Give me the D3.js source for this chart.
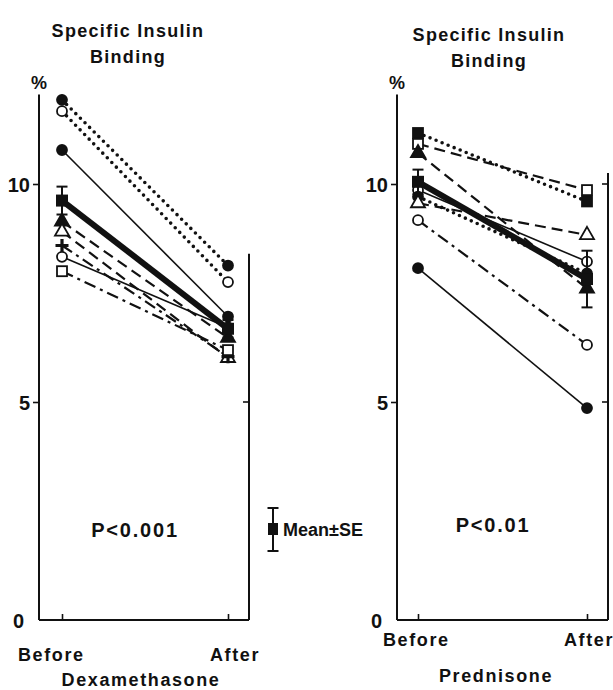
<!DOCTYPE html>
<html><head><meta charset="utf-8">
<script src="https://cdn.jsdelivr.net/npm/d3@7"></script>
<style>
body{margin:0;background:#fff}
text{font-family:"Liberation Sans",Arial,Helvetica,sans-serif;font-weight:bold;fill:#111}
</style>
</head><body>
<svg id="chart" width="613" height="690"></svg>
<script>
// ---------- data ----------
const phases = ["Before", "After"];
const yTickValues = [0, 5, 10];

// Dexamethasone panel
const dexSubjects = ["d1", "d2", "d3", "d4", "d5", "d6", "d7", "d8"];
const dexBefore   = [11.93, 11.67, 10.78, 9.14, 8.91, 8.59, 8.33, 8.00];
const dexAfter    = [8.13, 7.75, 6.96, 6.47, 6.01, 6.04, 6.71, 6.19];
const dexMean     = [9.62, 6.68];
const dexSE       = [0.32, 0.20];

// Prednisone panel
const preSubjects = ["p1", "p2", "p3", "p4", "p5", "p6", "p7", "p8"];
const preBefore   = [11.17, 10.92, 10.71, 9.86, 9.71, 9.56, 9.17, 8.07];
const preAfter    = [9.60, 9.86, 7.60, 8.22, 7.95, 8.83, 6.31, 4.86];
const preMean     = [10.05, 7.82];
const preSE       = [0.28, 0.65];

// ---------- styles (not data) ----------
const dexStyle = {
  d1:{line:"dot", marker:"circle", fill:true},
  d2:{line:"dot", marker:"circle", fill:false},
  d3:{line:"solid", marker:"circle", fill:true},
  d4:{line:"dash", marker:"triangle", fill:true},
  d5:{line:"dash", marker:"triangle", fill:false},
  d6:{line:"dashdot", marker:"plus", fill:true},
  d7:{line:"solid", marker:"circle", fill:false},
  d8:{line:"dashdot", marker:"square", fill:false}
};
const preStyle = {
  p1:{line:"dot", marker:"square", fill:true},
  p2:{line:"dash", marker:"square", fill:false},
  p3:{line:"dash", marker:"triangle", fill:true},
  p4:{line:"solid", marker:"circle", fill:false},
  p5:{line:"dot", marker:"circle", fill:true},
  p6:{line:"dash", marker:"triangle", fill:false},
  p7:{line:"dashdot", marker:"circle", fill:false},
  p8:{line:"solid", marker:"circle", fill:true}
};
const lineStyles = {
  solid:{w:1.6, dash:null, cap:"butt"},
  dot:{w:3.6, dash:"0,6.5", cap:"round"},
  dash:{w:2.2, dash:"11,6", cap:"butt"},
  dashdot:{w:2.2, dash:"12,5,3,5", cap:"butt"}
};

const svg = d3.select("#chart");
const ink = "#111";

function drawMarker(g, type, filled, cx, cy) {
  const fill = filled ? ink : "#fff";
  if (type === "circle") {
    g.append("circle").attr("cx", cx).attr("cy", cy).attr("r", 5)
      .attr("fill", fill).attr("stroke", ink).attr("stroke-width", 1.8);
  } else if (type === "square") {
    g.append("rect").attr("x", cx - 5).attr("y", cy - 5).attr("width", 10).attr("height", 10)
      .attr("fill", fill).attr("stroke", ink).attr("stroke-width", 1.8);
  } else if (type === "triangle") {
    g.append("path").attr("d", d3.symbol(d3.symbolTriangle, 85)())
      .attr("transform", `translate(${cx},${cy})`)
      .attr("fill", fill).attr("stroke", ink).attr("stroke-width", 1.8);
  } else if (type === "plus") {
    g.append("path").attr("d", `M${cx-6.5},${cy}H${cx+6.5}M${cx},${cy-6.5}V${cy+6.5}`)
      .attr("stroke", ink).attr("stroke-width", 3.2);
  }
}

function panel(cfg) {
  const g = svg.append("g");
  const y = d3.scaleLinear().domain([0, 12]).range([620, 620 - 12 * 43.6]);
  const x = d3.scalePoint().domain(phases).range([cfg.bx, cfg.ax]);

  // left axis
  const yAxis = d3.axisLeft(y).tickValues(yTickValues).tickSize(6).tickPadding(3)
    .tickFormat(d3.format("d"));
  const ya = g.append("g").attr("transform", `translate(${cfg.left},0)`).call(yAxis);
  ya.select(".domain").remove();
  ya.selectAll(".tick line").attr("stroke", ink).attr("stroke-width", 1.6)
    .attr("display", d => d === 0 ? "none" : null);
  ya.selectAll(".tick text").attr("font-size", 20).attr("fill", ink)
    .attr("font-family", "Liberation Sans, Arial, sans-serif").attr("font-weight", "bold")
    .attr("dx", d => d === 0 ? -6 : 0).attr("dy", "0.36em");
  g.append("line").attr("x1", cfg.left).attr("x2", cfg.left)
    .attr("y1", y(12.05)).attr("y2", y(0)).attr("stroke", ink).attr("stroke-width", 2);

  // bottom axis
  const xAxis = d3.axisBottom(x).tickSize(-6).tickFormat("");
  const xa = g.append("g").attr("transform", `translate(0,${y(0)})`).call(xAxis);
  xa.select(".domain").remove();
  xa.selectAll(".tick line").attr("stroke", ink).attr("stroke-width", 1.6);
  g.append("line").attr("x1", cfg.left).attr("x2", cfg.right)
    .attr("y1", y(0)).attr("y2", y(0)).attr("stroke", ink).attr("stroke-width", 2);

  // right frame line
  g.append("line").attr("x1", cfg.right).attr("x2", cfg.right)
    .attr("y1", y(cfg.rightTop)).attr("y2", y(0)).attr("stroke", ink).attr("stroke-width", 2);
  cfg.rightTicks.forEach(v => g.append("line").attr("x1", cfg.right - 6).attr("x2", cfg.right)
    .attr("y1", y(v)).attr("y2", y(v)).attr("stroke", ink).attr("stroke-width", 1.6));

  // "%" unit
  g.append("text").attr("x", cfg.left).attr("y", 89).attr("text-anchor", "middle")
    .attr("font-size", 18).text("%");

  // subject lines
  cfg.subjects.forEach((s, i) => {
    const st = cfg.style[s], ls = lineStyles[st.line];
    g.append("line")
      .attr("x1", x("Before")).attr("y1", y(cfg.before[i]))
      .attr("x2", x("After")).attr("y2", y(cfg.after[i]))
      .attr("stroke", ink).attr("stroke-width", ls.w)
      .attr("stroke-dasharray", ls.dash).attr("stroke-linecap", ls.cap);
  });
  // mean line
  g.append("line")
    .attr("x1", x("Before")).attr("y1", y(cfg.mean[0]))
    .attr("x2", x("After")).attr("y2", y(cfg.mean[1]))
    .attr("stroke", ink).attr("stroke-width", 6);
  // markers
  cfg.subjects.forEach((s, i) => {
    const st = cfg.style[s];
    drawMarker(g, st.marker, st.fill, x("Before"), y(cfg.before[i]));
    drawMarker(g, st.marker, st.fill, x("After"), y(cfg.after[i]));
  });
  // mean +- SE
  phases.forEach((p, i) => {
    const cx = x(p), m = cfg.mean[i], se = cfg.SE[i];
    g.append("line").attr("x1", cx).attr("x2", cx).attr("y1", y(m + se)).attr("y2", y(m - se))
      .attr("stroke", ink).attr("stroke-width", 2);
    [m + se, m - se].forEach(v => g.append("line").attr("x1", cx - 5.5).attr("x2", cx + 5.5)
      .attr("y1", y(v)).attr("y2", y(v)).attr("stroke", ink).attr("stroke-width", 2));
    g.append("rect").attr("x", cx - 6).attr("y", y(m) - 6).attr("width", 12).attr("height", 12)
      .attr("fill", ink);
  });

  // titles & labels
  g.append("text").attr("x", cfg.titleX).attr("y", cfg.titleY).attr("text-anchor", "middle")
    .attr("font-size", 18).attr("letter-spacing", 1.3).text("Specific Insulin");
  g.append("text").attr("x", cfg.titleX).attr("y", cfg.titleY + 26).attr("text-anchor", "middle")
    .attr("font-size", 18).attr("letter-spacing", 1.3).text("Binding");
  g.append("text").attr("x", cfg.beforeLabelX).attr("y", cfg.phaseY).attr("font-size", 18)
    .attr("letter-spacing", 1.6).text(phases[0]);
  g.append("text").attr("x", cfg.afterLabelX).attr("y", cfg.phaseY).attr("font-size", 18)
    .attr("text-anchor", "end").attr("letter-spacing", 1.6).text(phases[1]);
  g.append("text").attr("x", cfg.drugX).attr("y", cfg.drugY).attr("text-anchor", "middle")
    .attr("font-size", 18).attr("letter-spacing", 1.6).text(cfg.drug);
  g.append("text").attr("x", cfg.pX).attr("y", cfg.pY).attr("text-anchor", "middle")
    .attr("font-size", 20).attr("letter-spacing", 1.8).text(cfg.p);
  return y;
}

panel({
  left: 39, right: 249, bx: 62, ax: 228, rightTop: 8.4, rightTicks: [5],
  subjects: dexSubjects, before: dexBefore, after: dexAfter, style: dexStyle,
  mean: dexMean, SE: dexSE,
  titleX: 128, titleY: 37, beforeLabelX: 18, afterLabelX: 260, phaseY: 661,
  drug: "Dexamethasone", drugX: 141, drugY: 686, p: "P<0.001", pX: 135, pY: 537
});
panel({
  left: 397, right: 608, bx: 418, ax: 587, rightTop: 10.25, rightTicks: [5, 10],
  subjects: preSubjects, before: preBefore, after: preAfter, style: preStyle,
  mean: preMean, SE: preSE,
  titleX: 489, titleY: 41, beforeLabelX: 383, afterLabelX: 614, phaseY: 646,
  drug: "Prednisone", drugX: 496, drugY: 682, p: "P<0.01", pX: 493, pY: 532
});

// legend: Mean ± SE
const lg = svg.append("g");
const lx = 273;
lg.append("line").attr("x1", lx).attr("x2", lx).attr("y1", 508).attr("y2", 551)
  .attr("stroke", ink).attr("stroke-width", 2);
[508, 551].forEach(v => lg.append("line").attr("x1", lx - 5.5).attr("x2", lx + 5.5)
  .attr("y1", v).attr("y2", v).attr("stroke", ink).attr("stroke-width", 2));
lg.append("rect").attr("x", lx - 5).attr("y", 523).attr("width", 10).attr("height", 12).attr("fill", ink);
lg.append("text").attr("x", 283).attr("y", 536).attr("font-size", 18).text("Mean±SE");
</script>
</body></html>
